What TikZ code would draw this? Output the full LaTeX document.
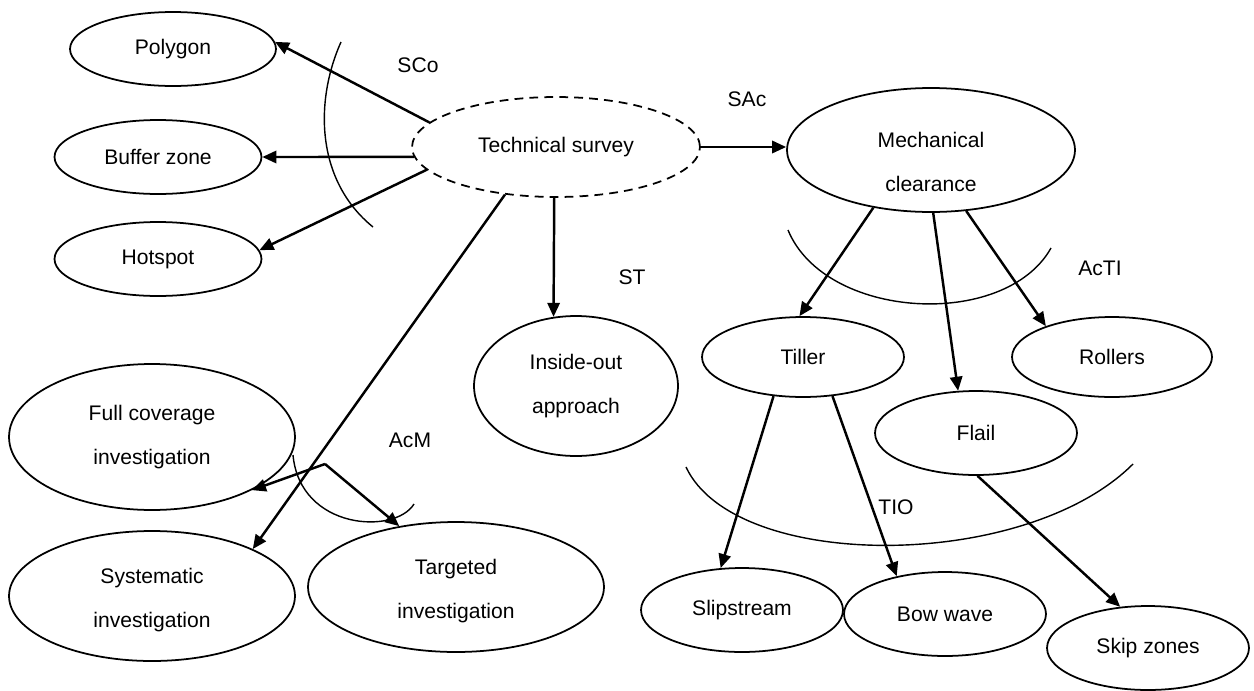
\documentclass[tikz,border=0pt]{standalone}
\usepackage{fontspec}
\setmainfont{Liberation Sans}
\usetikzlibrary{shapes.geometric,arrows.meta}
\tikzset{
  bubble/.style={ellipse, draw, line width=1pt, inner sep=0pt, align=center,
    font=\fontsize{12}{25}\selectfont},
  conn/.style={-{Triangle[length=8pt,width=7pt]}, line width=1.4pt},
  arcline/.style={line width=0.8pt},
  lbl/.style={font=\fontsize{12}{14}\selectfont}
}
\begin{document}
\begin{tikzpicture}[x=0.02cm,y=-0.02cm]
    \useasboundingbox (0,0) rectangle (1254,690);

    %Survey and its outcomes
    \node[bubble, dashed, dash pattern=on 5pt off 3.5pt, minimum width=5.76cm, minimum height=2cm] (ts) at (556,147) {Technical survey};
    \node[bubble, minimum width=4.12cm, minimum height=1.48cm] (poly) at (173,49) {Polygon};
    \node[bubble, minimum width=4.14cm, minimum height=1.48cm] (buf) at (158,157) {Buffer zone};
    \node[bubble, minimum width=4.14cm, minimum height=1.48cm] (hot) at (158,259) {Hotspot};
    \node[bubble, minimum width=4.08cm, minimum height=2.8cm] (io) at (576,386) {Inside-out\\approach};

    %Investigations
    \node[bubble, minimum width=5.72cm, minimum height=2.92cm] (fc) at (152,437) {Full coverage\\investigation};
    \node[bubble, minimum width=5.72cm, minimum height=2.6cm] (sys) at (152,596) {\rule{0pt}{13pt}Systematic\\investigation};
    \node[bubble, minimum width=5.92cm, minimum height=2.6cm] (tg) at (456,587) {\rule{0pt}{13pt}Targeted\\investigation};

    %Mechanical clearance
    \node[bubble, minimum width=5.76cm, minimum height=2.48cm] (mc) at (931,150) {\rule{0pt}{22pt}Mechanical\\clearance};
    \node[bubble, minimum width=4.04cm, minimum height=1.6cm] (til) at (803,357) {Tiller};
    \node[bubble, minimum width=4cm, minimum height=1.6cm] (rol) at (1112,357) {Rollers};
    \node[bubble, minimum width=4.04cm, minimum height=1.68cm] (fl) at (976,433) {Flail};
    \node[bubble, minimum width=4.04cm, minimum height=1.68cm] (ss) at (742,610) {Slipstream};
    \node[bubble, minimum width=4.04cm, minimum height=1.68cm] (bw) at (945,614) {Bow wave};
    \node[bubble, minimum width=4.04cm, minimum height=1.68cm] (sz) at (1148,648) {Skip zones};

    %Labels
    \node[lbl] (sco) at (418,65) {SCo};
    \node[lbl] (sac) at (747,99) {SAc};
    \node[lbl] (st) at (632,277) {ST};
    \node[lbl] (acti) at (1100,268) {AcTI};
    \node[lbl] (acm) at (410,440) {AcM};
    \node[lbl] (tio) at (896,507) {TIO};

    %Arcs
    \draw[arcline] (341,42) .. controls (315,100) and (315,180) .. (373,227);
    \draw[arcline] (788,230) .. controls (825,320) and (1005,330) .. (1051,248);
    \draw[arcline] (686,467) .. controls (735,572) and (1025,572) .. (1133,464);
    \draw[arcline] (293,455) .. controls (300,530) and (395,535) .. (414,504);

    %Arrows
    \draw[conn] (ts.169) -- (poly.4);
    \draw[conn] (ts.184) -- (buf.east);
    \draw[conn] (ts.190) -- (hot.5);
    \draw[conn] (ts.223) -- (sys.25);
    \draw[conn] (ts.268) -- (io.108);
    \draw[conn] (ts.east) -- (mc.west |- ts.east);
    \draw[conn] (mc.225) -- (til.95);
    \draw[conn] (mc.272) -- (fl.113);
    \draw[conn] (mc.300) -- (rol.155);
    \draw[conn] (til.233) -- (ss.117);
    \draw[conn] (til.307) -- (bw.142);
    \draw[conn] (fl.272) -- (sz.124);
    \coordinate (split) at (325,464);
    \draw[conn] (split) -- (fc.332);
    \draw[conn] (split) -- (tg.133);
\end{tikzpicture}
\end{document}
